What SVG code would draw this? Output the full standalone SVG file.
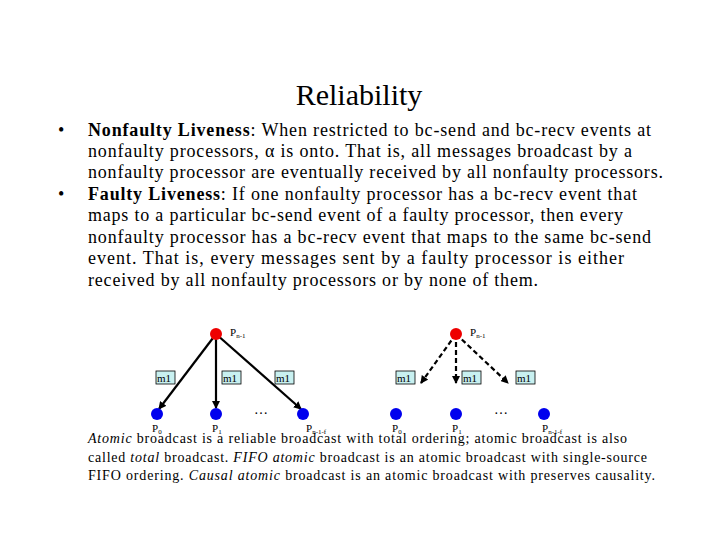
<svg xmlns="http://www.w3.org/2000/svg" width="720" height="540" viewBox="0 0 720 540">
<style>
text{font-family:"Liberation Serif",serif;fill:#000}
.b{font-size:18px}
.s{font-size:14px}
.lab{font-size:11px}
.sub{font-size:7px}
.box{fill:#c8f0f0;stroke:#000;stroke-width:0.8}
.blue{fill:#0000ee}
.red{fill:#ee0000}
.sol{stroke:#000;stroke-width:2.2;fill:none;marker-end:url(#a)}
.das{stroke:#000;stroke-width:2.2;fill:none;stroke-dasharray:5,3;marker-end:url(#a)}
</style>
<defs><marker id="a" markerWidth="8" markerHeight="8" refX="7" refY="4" orient="auto" markerUnits="userSpaceOnUse"><path d="M0,0 L8,4 L0,8z" fill="#000"/></marker></defs>
<rect width="720" height="540" fill="#fff"/>
<text x="359" y="105" font-size="30" text-anchor="middle">Reliability</text>
<g class="b">
<text x="58" y="136">•</text>
<text x="88" y="136" textLength="563" lengthAdjust="spacing"><tspan font-weight="bold">Nonfaulty Liveness</tspan>: When restricted to bc-send and bc-recv events at</text>
<text x="88" y="157" textLength="544" lengthAdjust="spacing">nonfaulty processors, α is onto. That is, all messages broadcast by a</text>
<text x="88" y="178" textLength="575" lengthAdjust="spacing">nonfaulty processor are eventually received by all nonfaulty processors.</text>
<text x="58" y="200">•</text>
<text x="88" y="200" textLength="549" lengthAdjust="spacing"><tspan font-weight="bold">Faulty Liveness</tspan>: If one nonfaulty processor has a bc-recv event that</text>
<text x="88" y="221" textLength="535" lengthAdjust="spacing">maps to a particular bc-send event of a faulty processor, then every</text>
<text x="88" y="243" textLength="563" lengthAdjust="spacing">nonfaulty processor has a bc-recv event that maps to the same bc-send</text>
<text x="88" y="264" textLength="536" lengthAdjust="spacing">event. That is, every messages sent by a faulty processor is either</text>
<text x="88" y="286" textLength="450" lengthAdjust="spacing">received by all nonfaulty processors or by none of them.</text>
</g>
<g id="connectors">
<path class="sol" d="M216,334 L159,409"/>
<path class="sol" d="M216,334 L216,408"/>
<path class="sol" d="M216,334 L301,409"/>
<path class="das" d="M456,334 L421,383"/>
<path class="das" d="M456,334 L456,383"/>
<path class="das" d="M456,334 L508,383"/>
</g>
<g id="root-left"><circle class="red" cx="216" cy="334" r="6"/><text class="lab" x="230" y="336">P<tspan class="sub" dy="2">n-1</tspan></text></g>
<g id="root-right"><circle class="red" cx="456" cy="334" r="6"/><text class="lab" x="470" y="336">P<tspan class="sub" dy="2">n-1</tspan></text></g>
<g id="labels">
<rect class="box" x="156" y="371" width="19" height="13"/><text class="lab" x="157" y="382">m1</text>
<rect class="box" x="222" y="371" width="19" height="13"/><text class="lab" x="223" y="382">m1</text>
<rect class="box" x="275" y="371" width="19" height="13"/><text class="lab" x="276" y="382">m1</text>
<rect class="box" x="396" y="371" width="19" height="13"/><text class="lab" x="397" y="382">m1</text>
<rect class="box" x="462" y="371" width="19" height="13"/><text class="lab" x="463" y="382">m1</text>
<rect class="box" x="516" y="371" width="19" height="13"/><text class="lab" x="517" y="382">m1</text>
</g>
<g id="p0-left"><circle class="blue" cx="157" cy="414" r="6"/><text class="lab" x="152" y="432">P<tspan class="sub" dy="2">0</tspan></text></g>
<g id="p1-left"><circle class="blue" cx="216" cy="414" r="6"/><text class="lab" x="212" y="432">P<tspan class="sub" dy="2">1</tspan></text></g>
<text x="254" y="414" font-size="14">…</text>
<g id="pn-left"><circle class="blue" cx="303" cy="414" r="6"/><text class="lab" x="306" y="432">P<tspan class="sub" dy="2">n-1-f</tspan></text></g>
<g id="p0-right"><circle class="blue" cx="396" cy="414" r="6"/><text class="lab" x="392" y="432">P<tspan class="sub" dy="2">0</tspan></text></g>
<g id="p1-right"><circle class="blue" cx="456" cy="414" r="6"/><text class="lab" x="452" y="432">P<tspan class="sub" dy="2">1</tspan></text></g>
<text x="494" y="414" font-size="14">…</text>
<g id="pn-right"><circle class="blue" cx="544" cy="414" r="6"/><text class="lab" x="542" y="432">P<tspan class="sub" dy="2">n-1-f</tspan></text></g>
<g class="s">
<text x="88" y="443" textLength="539" lengthAdjust="spacing"><tspan font-style="italic">Atomic</tspan> broadcast is a reliable broadcast with total ordering; atomic broadcast is also</text>
<text x="88" y="462" textLength="559" lengthAdjust="spacing">called <tspan font-style="italic">total</tspan> broadcast. <tspan font-style="italic">FIFO atomic</tspan> broadcast is an atomic broadcast with single-source</text>
<text x="88" y="480" textLength="567" lengthAdjust="spacing">FIFO ordering. <tspan font-style="italic">Causal atomic</tspan> broadcast is an atomic broadcast with preserves causality.</text>
</g>
</svg>
